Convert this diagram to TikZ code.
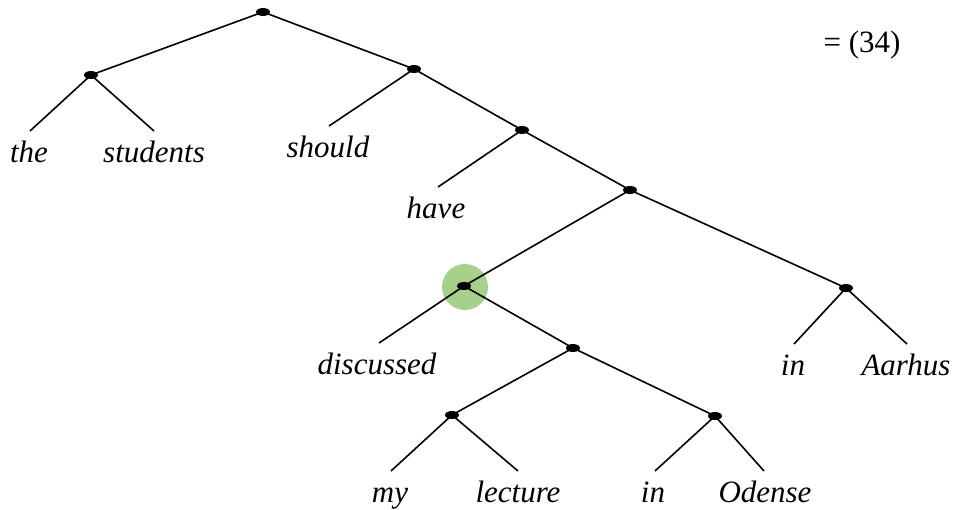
\documentclass[tikz,border=0pt]{standalone}
\usepackage{fontspec}
\setmainfont{Liberation Serif}
\usetikzlibrary{shapes.geometric}
\begin{document}
\begin{tikzpicture}[x=1pt,y=-1pt,
  dotnode/.style={fill=black,ellipse,inner sep=0pt,minimum width=14pt,minimum height=8pt},
  edge/.style={line width=1.6pt},
  word/.style={anchor=base,inner sep=0pt,font=\fontsize{31}{36}\selectfont\itshape},
  plain/.style={anchor=base,inner sep=0pt,font=\fontsize{31}{36}\selectfont}]
\useasboundingbox (0,0) rectangle (953,509);
% highlight
\fill[fill={rgb,255:red,168;green,208;blue,141}] (465,287) circle (23);
% internal nodes
\coordinate (r) at (263,12);
\coordinate (a) at (91,75);
\coordinate (b) at (414,69);
\coordinate (c) at (522,130);
\coordinate (d) at (630,190);
\coordinate (e) at (464,286);
\coordinate (f) at (846,288);
\coordinate (g) at (573,348);
\coordinate (h) at (452,415);
\coordinate (k) at (715,416);
% leaf ends
\coordinate (lthe) at (30,131);
\coordinate (lstu) at (154,131);
\coordinate (lsho) at (329,126);
\coordinate (lhav) at (438,187);
\coordinate (ldis) at (379,343);
\coordinate (lin1) at (794,344);
\coordinate (laar) at (907,344);
\coordinate (lmy) at (391,471);
\coordinate (llec) at (518,471);
\coordinate (lin2) at (655,471);
\coordinate (lode) at (764,471);
% edges
\draw[edge] (r) -- (a);
\draw[edge] (r) -- (b);
\draw[edge] (a) -- (lthe);
\draw[edge] (a) -- (lstu);
\draw[edge] (b) -- (lsho);
\draw[edge] (b) -- (c);
\draw[edge] (c) -- (lhav);
\draw[edge] (c) -- (d);
\draw[edge] (d) -- (e);
\draw[edge] (d) -- (f);
\draw[edge] (e) -- (ldis);
\draw[edge] (e) -- (g);
\draw[edge] (f) -- (lin1);
\draw[edge] (f) -- (laar);
\draw[edge] (g) -- (h);
\draw[edge] (g) -- (k);
\draw[edge] (h) -- (lmy);
\draw[edge] (h) -- (llec);
\draw[edge] (k) -- (lin2);
\draw[edge] (k) -- (lode);
% dots
\foreach \n in {r,a,b,c,d,e,f,g,h,k} \node[dotnode] (dot\n) at (\n) {};
% words
\node[word] (wthe) at (29,162) {the};
\node[word] (wstu) at (154,162) {students};
\node[word] (wsho) at (328,157) {should};
\node[word] (whav) at (436,218) {have};
\node[word] (wdis) at (377,374) {discussed};
\node[word] (win1) at (793,375) {in};
\node[word] (waar) at (906,375) {Aarhus};
\node[word] (wmy) at (390,502) {my};
\node[word] (wlec) at (518,502) {lecture};
\node[word] (win2) at (653,502) {in};
\node[word] (wode) at (765,502) {Odense};
\node[plain] (eq) at (862,52) {= (34)};
\end{tikzpicture}
\end{document}
